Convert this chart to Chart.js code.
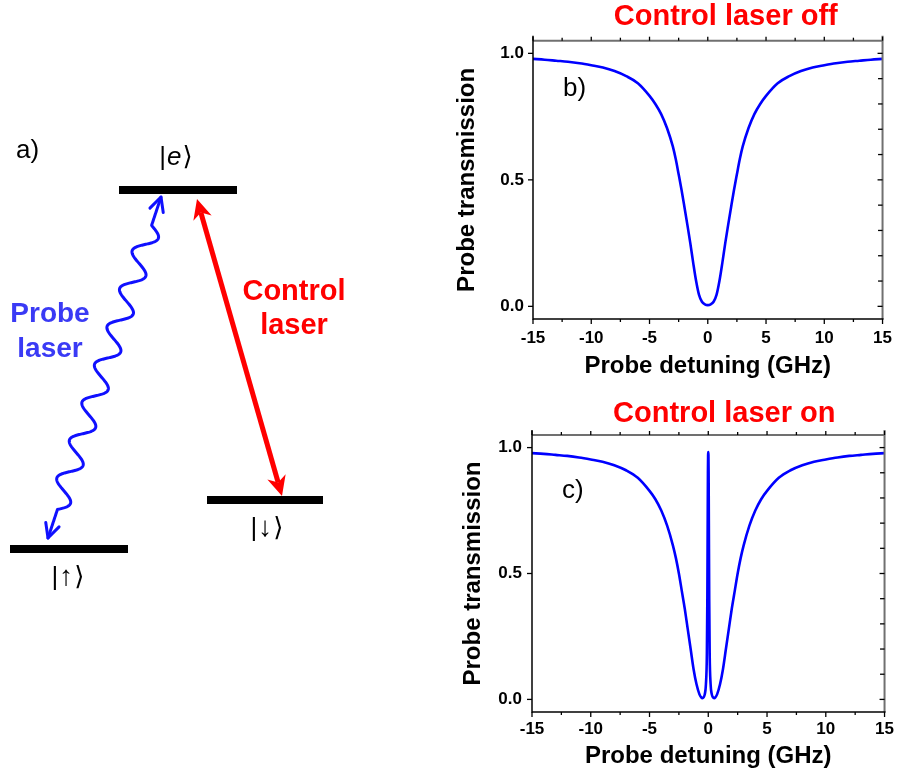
<!DOCTYPE html>
<html>
<head>
<meta charset="utf-8">
<script src="https://cdn.jsdelivr.net/npm/chart.js@4.4.1/dist/chart.umd.min.js"></script>
<style>
  html, body { margin: 0; padding: 0; background: #ffffff; }
  body { width: 901px; height: 774px; position: relative; overflow: hidden; }
  canvas { position: absolute; display: block; }
</style>
</head>
<body>
<canvas id="diagram" width="450" height="774" style="left:0;top:0;width:450px;height:774px"></canvas>
<canvas id="panelB" width="451" height="390" style="left:450px;top:0;width:451px;height:390px"></canvas>
<canvas id="panelC" width="451" height="382" style="left:450px;top:392px;width:451px;height:382px"></canvas>
<script>
// ===================== DATA =====================
// Panel b) control laser off : probe detuning (GHz) vs probe transmission
const detuningOff = [-15, -14, -13, -12, -11, -10, -9, -8, -7, -6, -5, -4.5, -4, -3.5, -3, -2.75, -2.5, -2.25, -2, -1.75, -1.5, -1.25, -1, -0.75, -0.5, -0.25, 0,
  0.25, 0.5, 0.75, 1, 1.25, 1.5, 1.75, 2, 2.25, 2.5, 2.75, 3, 3.5, 4, 4.5, 5, 6, 7, 8, 9, 10, 11, 12, 13, 14, 15];
const transmissionOff = [0.978, 0.975, 0.971, 0.967, 0.961, 0.953, 0.944, 0.930, 0.910, 0.882, 0.832, 0.800, 0.760, 0.705, 0.632, 0.582, 0.522, 0.460, 0.392, 0.322, 0.250, 0.172, 0.100, 0.045, 0.018, 0.008, 0.005,
  0.008, 0.018, 0.045, 0.100, 0.172, 0.250, 0.322, 0.392, 0.460, 0.522, 0.582, 0.632, 0.705, 0.760, 0.800, 0.832, 0.882, 0.910, 0.930, 0.944, 0.953, 0.961, 0.967, 0.971, 0.975, 0.978];

// Panel c) control laser on : same axes, with the narrow transparency window at zero detuning
const detuningOn = [-15, -14, -13, -12, -11, -10, -9, -8, -7, -6, -5, -4.5, -4, -3.5, -3, -2.75, -2.5, -2.25, -2, -1.75, -1.5, -1.25, -1, -0.75, -0.6, -0.5, -0.4, -0.3, -0.2, -0.12, -0.08, -0.05, -0.03, -0.015, 0,
  0.015, 0.03, 0.05, 0.08, 0.12, 0.2, 0.3, 0.4, 0.5, 0.6, 0.75, 1, 1.25, 1.5, 1.75, 2, 2.25, 2.5, 2.75, 3, 3.5, 4, 4.5, 5, 6, 7, 8, 9, 10, 11, 12, 13, 14, 15];
const transmissionOn = [0.978, 0.975, 0.971, 0.967, 0.961, 0.953, 0.944, 0.930, 0.910, 0.880, 0.828, 0.795, 0.750, 0.690, 0.610, 0.560, 0.500, 0.430, 0.360, 0.280, 0.200, 0.120, 0.060, 0.020, 0.008, 0.005, 0.008, 0.020, 0.060, 0.180, 0.400, 0.700, 0.900, 0.970, 0.982,
  0.970, 0.900, 0.700, 0.400, 0.180, 0.060, 0.020, 0.008, 0.005, 0.008, 0.020, 0.060, 0.120, 0.200, 0.280, 0.360, 0.430, 0.500, 0.560, 0.610, 0.690, 0.750, 0.795, 0.828, 0.880, 0.910, 0.930, 0.944, 0.953, 0.961, 0.967, 0.971, 0.975, 0.978];

// Axis ticks
const xTickValues = [-15, -10, -5, 0, 5, 10, 15];
const xTickLabels = ['-15', '-10', '-5', '0', '5', '10', '15'];
const xMinorValues = [-12.5, -7.5, -2.5, 2.5, 7.5, 12.5];
const yTickValues = [0, 0.5, 1.0];
const yTickLabels = ['0.0', '0.5', '1.0'];
const yMinorValues = [0.1, 0.2, 0.3, 0.4, 0.6, 0.7, 0.8, 0.9];

// Panel a) level scheme, in diagram units
const levelLabels = [['|', 'e', '\u27E9'], ['|', '\u2193', '\u27E9'], ['|', '\u2191', '\u27E9']];
const levelXStart = [119, 207, 10];
const levelXEnd = [237, 323, 128];
const levelY = [190, 500, 549];
const levelLabelX = [176, 267, 68];
const levelLabelY = [165, 536, 585];
const controlArrowFrom = [197, 199];
const controlArrowTo = [282, 496];
const probeArrowFrom = [48, 538];
const probeArrowTo = [161, 197];

// ===================== RENDERING =====================
const FONT = 'Arial, "Liberation Sans", Helvetica, sans-serif';
Chart.defaults.font.family = FONT;

function strokeLine(ctx, x1, y1, x2, y2) {
  ctx.beginPath(); ctx.moveTo(x1, y1); ctx.lineTo(x2, y2); ctx.stroke();
}

// ---------- diagram (panel a) ----------
const diagramDecor = {
  id: 'diagramDecor',
  afterDatasetsDraw(chart) {
    const { ctx, scales: { x, y } } = chart;
    const P = (p) => [x.getPixelForValue(p[0]), y.getPixelForValue(p[1])];
    ctx.save();

    // control laser: thick red double arrow with filled heads
    {
      const a = P(controlArrowFrom), b = P(controlArrowTo);
      const dx = b[0] - a[0], dy = b[1] - a[1], len = Math.hypot(dx, dy);
      const u = [dx / len, dy / len], n = [-u[1], u[0]];
      const L = 20, W = 9.5, notch = 14;
      ctx.strokeStyle = '#ff0000'; ctx.fillStyle = '#ff0000'; ctx.lineWidth = 5; ctx.lineCap = 'butt';
      strokeLine(ctx, a[0] + u[0] * notch, a[1] + u[1] * notch, b[0] - u[0] * notch, b[1] - u[1] * notch);
      const head = (t, s) => {
        ctx.beginPath();
        ctx.moveTo(t[0], t[1]);
        ctx.lineTo(t[0] + s * u[0] * L + n[0] * W, t[1] + s * u[1] * L + n[1] * W);
        ctx.lineTo(t[0] + s * u[0] * (L - 6), t[1] + s * u[1] * (L - 6));
        ctx.lineTo(t[0] + s * u[0] * L - n[0] * W, t[1] + s * u[1] * L - n[1] * W);
        ctx.closePath(); ctx.fill();
      };
      head(a, 1); head(b, -1);
    }

    // probe laser: blue wavy double arrow with open heads
    {
      const a = P(probeArrowFrom), b = P(probeArrowTo);
      const dx = b[0] - a[0], dy = b[1] - a[1], len = Math.hypot(dx, dy);
      const u = [dx / len, dy / len], n = [u[1] * -1, u[0]];
      const leadA = 30, leadB = 30, periods = 7.5, amp = 10.5;
      const wavyLen = len - leadA - leadB;
      ctx.strokeStyle = '#1010ff'; ctx.lineWidth = 3; ctx.lineJoin = 'round'; ctx.lineCap = 'round';
      ctx.beginPath();
      ctx.moveTo(a[0], a[1]);
      for (let s = 0; s <= len; s += 0.5) {
        let off = 0;
        if (s > leadA && s < len - leadB) {
          off = amp * Math.sin(2 * Math.PI * periods * (s - leadA) / wavyLen);
        }
        ctx.lineTo(a[0] + u[0] * s + n[0] * off, a[1] + u[1] * s + n[1] * off);
      }
      ctx.stroke();
      const chevron = (t, s) => {
        const L = 14, W = 7;
        ctx.beginPath();
        ctx.moveTo(t[0] + s * u[0] * L + n[0] * W, t[1] + s * u[1] * L + n[1] * W);
        ctx.lineTo(t[0], t[1]);
        ctx.lineTo(t[0] + s * u[0] * L - n[0] * W, t[1] + s * u[1] * L - n[1] * W);
        ctx.stroke();
      };
      chevron(a, 1); chevron(b, -1);
    }

    // level labels |e>, |down>, |up>
    ctx.fillStyle = '#000'; ctx.textBaseline = 'alphabetic'; ctx.textAlign = 'left';
    levelLabels.forEach((parts, i) => {
      const mid = i === 0 ? 'italic 26px ' + FONT : '28px ' + FONT;
      const fonts = ['26px ' + FONT, mid, '26px "DejaVu Sans", ' + FONT];
      const widths = parts.map((p, k) => { ctx.font = fonts[k]; return ctx.measureText(p).width; });
      const total = widths.reduce((s, w) => s + w, 0) + 2;
      let cx = x.getPixelForValue(levelLabelX[i]) - total / 2;
      const by = y.getPixelForValue(levelLabelY[i]);
      parts.forEach((p, k) => {
        ctx.font = fonts[k]; ctx.fillText(p, cx, by); cx += widths[k] + 1;
      });
    });

    // texts
    ctx.font = '26px ' + FONT; ctx.fillStyle = '#000';
    ctx.textAlign = 'left';
    ctx.fillText('a)', 16, 158);
    ctx.textAlign = 'center';
    ctx.font = 'bold 28px ' + FONT;
    ctx.fillStyle = '#3a3af5';
    ctx.fillText('Probe', 50, 322);
    ctx.fillText('laser', 50, 357);
    ctx.font = 'bold 29px ' + FONT;
    ctx.fillStyle = '#ff0000';
    ctx.fillText('Control', 294, 300);
    ctx.fillText('laser', 294, 334);
    ctx.restore();
  }
};

new Chart(document.getElementById('diagram'), {
  type: 'scatter',
  data: {
    datasets: levelY.map((ly, i) => ({
      data: [{ x: levelXStart[i], y: ly }, { x: levelXEnd[i], y: ly }],
      showLine: true, borderColor: '#000000', borderWidth: 8, borderCapStyle: 'butt',
      pointRadius: 0, pointHoverRadius: 0
    }))
  },
  options: {
    responsive: false, animation: false, devicePixelRatio: 1,
    layout: { padding: 0 },
    plugins: { legend: { display: false }, tooltip: { enabled: false } },
    scales: {
      x: { type: 'linear', display: false, min: 0, max: 450 },
      y: { type: 'linear', display: false, min: 0, max: 774, reverse: true }
    }
  },
  plugins: [diagramDecor]
});

// ---------- spectra panels (b, c) ----------
const panelDecor = {
  id: 'panelDecor',
  afterDraw(chart, args, opts) {
    const { ctx, chartArea: a, scales: { x, y } } = chart;
    ctx.save();
    ctx.lineCap = 'butt';
    // frame
    ctx.strokeStyle = '#707070'; ctx.lineWidth = 2;
    strokeLine(ctx, a.left, a.top, a.right, a.top);
    strokeLine(ctx, a.right, a.top - 5, a.right, a.bottom);
    ctx.strokeStyle = '#000000'; ctx.lineWidth = 1.5;
    strokeLine(ctx, a.left, a.top - 5, a.left, a.bottom + 0.75);
    strokeLine(ctx, a.left, a.bottom, a.right + 1, a.bottom);
    // ticks
    ctx.lineWidth = 1.3;
    xTickValues.forEach(v => {
      const px = x.getPixelForValue(v);
      strokeLine(ctx, px, a.bottom, px, a.bottom + 5);
      strokeLine(ctx, px, a.top, px, a.top - 4);
    });
    xMinorValues.forEach(v => {
      const px = x.getPixelForValue(v);
      strokeLine(ctx, px, a.bottom, px, a.bottom + 3);
      strokeLine(ctx, px, a.top, px, a.top - 3);
    });
    yTickValues.forEach(v => {
      const py = y.getPixelForValue(v);
      strokeLine(ctx, a.left, py, a.left - 5, py);
      strokeLine(ctx, a.right, py, a.right - 5, py);
    });
    yMinorValues.forEach(v => {
      const py = y.getPixelForValue(v);
      strokeLine(ctx, a.right, py, a.right - 4.5, py);
    });
    // panel title and letter
    ctx.fillStyle = '#ff0000'; ctx.font = 'bold 29px ' + FONT;
    ctx.textAlign = 'center'; ctx.textBaseline = 'alphabetic';
    ctx.fillText(opts.title, (a.left + a.right) / 2 + opts.titleDx, opts.titleBaseline);
    ctx.fillStyle = '#000000'; ctx.font = '26px ' + FONT; ctx.textAlign = 'left';
    ctx.fillText(opts.letter, a.left + opts.letterDx, a.top + opts.letterDy);
    ctx.restore();
  }
};

function makePanel(id, xs, ys, cfg) {
  return new Chart(document.getElementById(id), {
    type: 'scatter',
    data: {
      datasets: [{
        data: xs.map((v, i) => ({ x: v, y: ys[i] })),
        showLine: true, borderColor: '#0000ff', borderWidth: 2.6,
        cubicInterpolationMode: 'monotone', pointRadius: 0, pointHoverRadius: 0, fill: false
      }]
    },
    options: {
      responsive: false, animation: false, devicePixelRatio: 1,
      layout: { padding: { top: cfg.padTop, right: cfg.padRight, left: 0, bottom: 0 } },
      plugins: {
        legend: { display: false }, tooltip: { enabled: false },
        panelDecor: { title: cfg.title, titleDx: cfg.titleDx, titleBaseline: cfg.titleBaseline,
                      letter: cfg.letter, letterDx: 30, letterDy: cfg.letterDy }
      },
      scales: {
        x: {
          type: 'linear', min: -15, max: 15,
          afterFit: s => { s.height = cfg.xAxisH; },
          afterBuildTicks: s => { s.ticks = xTickValues.map(v => ({ value: v })); },
          grid: { display: false, drawTicks: false }, border: { display: false },
          ticks: { padding: cfg.xTickPad, color: '#000', autoSkip: false, maxRotation: 0,
                   font: { size: 17, weight: 'bold' },
                   callback: v => xTickLabels[xTickValues.indexOf(v)] },
          title: { display: true, text: 'Probe detuning (GHz)', color: '#000',
                   font: { size: 24, weight: 'bold' }, padding: { top: 0, bottom: cfg.xTitlePad } }
        },
        y: {
          type: 'linear', min: -0.05, max: 1.05,
          afterFit: s => { s.width = cfg.yAxisW; },
          afterBuildTicks: s => { s.ticks = yTickValues.map(v => ({ value: v })); },
          grid: { display: false, drawTicks: false }, border: { display: false },
          ticks: { padding: cfg.yTickPad, color: '#000', autoSkip: false,
                   font: { size: 17, weight: 'bold' },
                   callback: v => yTickLabels[yTickValues.indexOf(v)] },
          title: { display: true, text: 'Probe transmission', color: '#000',
                   font: { size: 24, weight: 'bold' }, padding: { top: cfg.yTitlePad, bottom: 0 } }
        }
      }
    },
    plugins: [panelDecor]
  });
}

makePanel('panelB', detuningOff, transmissionOff, {
  padTop: 40.7, padRight: 10, xAxisH: 71, yAxisW: 83, xTickPad: 9, yTickPad: 9,
  xTitlePad: 9, yTitlePad: 3, title: 'Control laser off', titleDx: 18, titleBaseline: 25,
  letter: 'b)', letterDy: 55
});
makePanel('panelC', detuningOn, transmissionOn, {
  padTop: 43, padRight: 13, xAxisH: 62, yAxisW: 82, xTickPad: 7, yTickPad: 10,
  xTitlePad: 3, yTitlePad: 9, title: 'Control laser on', titleDx: 16, titleBaseline: 30,
  letter: 'c)', letterDy: 63
});
</script>
</body>
</html>
